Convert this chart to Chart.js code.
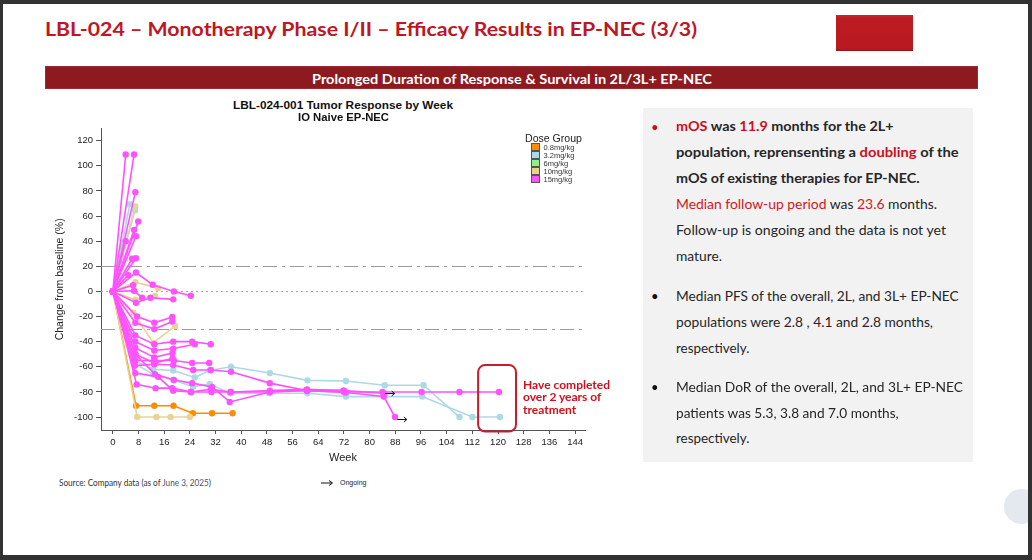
<!DOCTYPE html>
<html>
<head>
<meta charset="utf-8">
<script src="https://cdn.jsdelivr.net/npm/chart.js@4.4.1/dist/chart.umd.min.js"></script>
<style>
html,body{margin:0;padding:0;}
body{width:1032px;height:560px;background:#323232;position:relative;overflow:hidden;font-family:Lato,"Noto Sans",sans-serif;}
#page{position:absolute;left:3px;top:4px;width:1025px;height:551px;background:#fff;overflow:hidden;}
#circle{position:absolute;left:1001px;top:485px;width:35px;height:35px;border-radius:50%;background:#e4e8ef;}
#redblock{position:absolute;left:836px;top:15px;width:77px;height:36px;background:linear-gradient(#c72a30 0,#bd1b22 8%,#b81a21 92%,#9c1519 100%);}
#band{position:absolute;left:45px;top:66px;width:933px;height:23px;background:#8c1a1f;box-shadow:0 0 0 0.5px #a84045 inset;}
#panel{position:absolute;left:643px;top:108px;width:330px;height:354px;background:#f2f2f2;}
#chartBox{position:absolute;left:40px;top:120px;width:560px;height:350px;}
.t{position:absolute;left:0;top:0;white-space:nowrap;line-height:1.2;transform-origin:0 0;}
.h1{font-weight:700;font-size:19px;color:#be1622;}
.band{font-weight:700;font-size:12.5px;color:#fff;}
.ct{font-family:"Liberation Sans",Arial,sans-serif;font-weight:700;font-size:11px;color:#111;}
.lg{font-family:"Liberation Sans",Arial,sans-serif;font-size:10px;color:#222;}
.lgi{font-family:"Liberation Sans",Arial,sans-serif;font-size:7.5px;color:#333;}
.p{font-size:14px;color:#262626;}
.b{font-weight:700;}
.r{color:#c8101c;}
.rn{color:#d01820;}
.ann{font-weight:700;font-size:12px;color:#d0101a;}
.src{font-size:8.5px;color:#333;}
.og{font-family:"Liberation Sans",Arial,sans-serif;font-size:7px;color:#222;}
.lbox{position:absolute;width:7px;height:6px;border:1px solid #555;}
</style>
</head>
<body>
<div id="page"><div id="circle"></div></div>
<div id="redblock"></div>
<div id="band"></div>
<div id="panel"></div>
<div id="chartBox"><canvas id="c"></canvas></div>

<div class="t h1" data-x="45" data-b="36" data-w="652">LBL-024 – Monotherapy Phase I/II – Efficacy Results in EP-NEC (3/3)</div>
<div class="t band" data-x="512" data-b="83.5" data-a="center" data-w="400">Prolonged Duration of Response &amp; Survival in 2L/3L+ EP-NEC</div>

<div class="t ct" data-x="343" data-b="109" data-a="center" data-w="220">LBL-024-001 Tumor Response by Week</div>
<div class="t ct" data-x="343.5" data-b="120.5" data-a="center" data-w="91" style="font-size:10px">IO Naive EP-NEC</div>

<div class="t lg" data-x="553" data-b="141.5" data-a="center" data-w="57">Dose Group</div>
<div id="legendItems"></div>

<div class="t ann" data-x="523" data-b="388.7" data-w="87">Have completed</div>
<div class="t ann" data-x="523" data-b="401.3">over 2 years of</div>
<div class="t ann" data-x="523" data-b="414">treatment</div>

<div class="t src" data-x="59" data-b="485.5" data-w="152">Source: Company data (as of <span style="color:#44546a">June 3, 2025</span>)</div>
<svg style="position:absolute;left:319px;top:479px" width="16" height="8"><line x1="2" y1="4" x2="13" y2="4" stroke="#111" stroke-width="1"/><path d="M10,1.5 L13.5,4 L10,6.5" fill="none" stroke="#111" stroke-width="1"/></svg>
<div class="t og" data-x="340" data-b="484.5">Ongoing</div>

<div class="t p r" data-x="651" data-b="131.5" style="font-size:13px">•</div>
<div class="t p b" data-x="676" data-b="131" data-w="217.6"><span class="r">mOS</span> was <span class="r">11.9</span> months for the 2L+</div>
<div class="t p b" data-x="676" data-b="157.3" data-w="282.7">population, reprensenting a <span class="r">doubling</span> of the</div>
<div class="t p b" data-x="676" data-b="182.5" data-w="243.7">mOS of existing therapies for EP-NEC.</div>
<div class="t p" data-x="676" data-b="208.5" data-w="261"><span class="rn">Median follow-up period</span> was <span class="rn">23.6</span> months.</div>
<div class="t p" data-x="676" data-b="234.8" data-w="270">Follow-up is ongoing and the data is not yet</div>
<div class="t p" data-x="676" data-b="260.7" data-w="46">mature.</div>

<div class="t p" data-x="651" data-b="300.5" style="font-size:13px;color:#111">•</div>
<div class="t p" data-x="676" data-b="300.7" data-w="282.7">Median PFS of the overall, 2L, and 3L+ EP-NEC</div>
<div class="t p" data-x="676" data-b="326.7" data-w="257">populations were 2.8 , 4.1 and 2.8 months,</div>
<div class="t p" data-x="676" data-b="352.7" data-w="73.3">respectively.</div>

<div class="t p" data-x="651" data-b="391.5" style="font-size:13px;color:#111">•</div>
<div class="t p" data-x="676" data-b="391.7" data-w="287">Median DoR of the overall, 2L, and 3L+ EP-NEC</div>
<div class="t p" data-x="676" data-b="417.7" data-w="222.7">patients was 5.3, 3.8 and 7.0 months,</div>
<div class="t p" data-x="676" data-b="443.3" data-w="73.3">respectively.</div>

<script>
// ---------------- DATA ----------------
const doseGroups = ['0.8mg/kg', '3.2mg/kg', '6mg/kg', '10mg/kg', '15mg/kg'];
const doseColors = ['#ff8c00', '#add8e6', '#90ee90', '#e8d396', '#ff52ff'];

const xTickValues = [0, 8, 16, 24, 32, 40, 48, 56, 64, 72, 80, 88, 96, 104, 112, 120, 128, 136, 144];
const yTickValues = [-100, -80, -60, -40, -20, 0, 20, 40, 60, 80, 100, 120];

// Each patient: [week, % change from baseline]
const dose08 = [
  [[0,0],[7.2,-91],[12.9,-91],[18.9,-91],[24.9,-97],[30.9,-97],[37.3,-97]]
];
const dose32 = [
  [[0,0],[5.3,69.5]],
  [[0,0],[6.9,64.5]],
  [[0,0],[6.5,-55],[12.6,-62],[18.8,-63],[25.5,-68.5],[30.2,-63],[36.8,-60],[48.9,-65],[60.6,-70.8],[72.6,-71.3],[84.7,-74.7],[96.8,-74.7],[108,-100]],
  [[0,0],[6.5,-57],[12.6,-66],[18.8,-70.5],[25,-75.8],[30.2,-73.7],[36.5,-81],[48.7,-81],[60.6,-81],[72.6,-83.7],[84.7,-83.7],[96.4,-83.7],[112,-100],[120.6,-100]]
];
const dose6 = [
  [[0,0],[3,35]]
];
const dose10 = [
  [[0,0],[7,67.6]],
  [[0,0],[7,7.4],[14.1,2.6]],
  [[0,0],[7,-6.6],[13.1,-3.7]],
  [[0,0],[6.4,-17],[12.6,-41],[19.4,-27.5]],
  [[0,0],[7.6,-100],[13.6,-100],[18,-100],[24,-100]]
];
const dose15 = [
  [[0,0],[4,109]],
  [[0,0],[6.6,109]],
  [[0,0],[7,79]],
  [[0,0],[7.9,55.7]],
  [[0,0],[6.6,49]],
  [[0,0],[7.2,44]],
  [[0,0],[4,40]],
  [[0,0],[6,26]],
  [[0,0],[7.2,26.4]],
  [[0,0],[4.8,13]],
  [[0,0],[7.2,15],[12.4,5.3],[19,0],[24.3,-3.4]],
  [[0,0],[6.3,5]],
  [[0,0],[6.6,0.5],[9.1,-5]],
  [[0,0],[7.2,-9],[11.7,-5],[18.8,-6.3]],
  [[0,0],[7.5,-20],[12.9,-25],[18.5,-20.3]],
  [[0,0],[7,-25],[12.9,-30],[18.5,-24]],
  [[0,0],[7,-35],[12.9,-42],[18.8,-40],[24.7,-40],[30.5,-42]],
  [[0,0],[7,-40],[12.9,-47],[18.8,-45.5],[25.5,-42]],
  [[0,0],[7,-45],[12.9,-52.5],[18.6,-49]],
  [[0,0],[7,-50],[12.9,-57],[18.6,-53.3]],
  [[0,0],[7,-55],[12.9,-55],[19,-55],[24.7,-57],[30,-57]],
  [[0,0],[6.9,-59],[12.9,-58],[18.8,-58.6],[25,-62.6],[30.5,-62.6],[36.8,-64],[48.9,-73],[60.6,-79],[72.6,-80.5],[84.4,-83.7],[87.9,-100]],
  [[0,0],[7,-50],[13.1,-65.8],[19,-70.5],[24.7,-73],[30.9,-76],[36.4,-88],[48.9,-80],[60.3,-78.5],[71.8,-79]],
  [[0,0],[7.4,-74],[13.3,-77],[18.5,-77],[24.4,-80],[30.7,-80],[36.7,-80],[48.9,-80],[60.5,-79],[72,-80],[84,-80],[96.2,-80],[108,-80],[120.3,-80]],
  [[0,0],[7,-65],[14.1,-68],[18.8,-79],[24.2,-80],[30.5,-78],[36.7,-80],[48.9,-79],[60.5,-78],[72,-79],[84.4,-81]]
];

// reference lines (% change)
const refDashDot = [20, -30];
const refDotted = [0];
// ongoing arrows: start [week, %change], length in weeks
const ongoingArrows = [[84.8, -81], [88.6, -101.5]];
const arrowLengthWeeks = [3, 3];
// "completed over 2 years" box: weeks [from,to], change [top,bottom]
const completedBoxWeeks = [113.8, 125.6];
const completedBoxChange = [-58.6, -111.5];

// ---------------- BUILD ----------------
const groupPatients = [dose08, dose32, dose6, dose10, dose15];
const datasets = [];
[4, 3, 2, 1, 0].forEach(g => {
  groupPatients[g].forEach(p => {
    datasets.push({
      label: doseGroups[g],
      data: p.map(([x, y]) => ({x, y})),
      showLine: true,
      borderColor: doseColors[g],
      backgroundColor: doseColors[g],
      pointBackgroundColor: doseColors[g],
      pointBorderWidth: 0,
      pointRadius: 3.2,
      pointHoverRadius: 3.2,
      borderWidth: 1.6,
      tension: 0,
      clip: false
    });
  });
});

// HTML legend from the dose arrays
const li = document.getElementById('legendItems');
doseGroups.forEach((g, i) => {
  const top = 143.3 + i * 7.9;
  const box = document.createElement('div');
  box.className = 'lbox';
  box.style.left = '531px';
  box.style.top = top + 'px';
  box.style.background = doseColors[i];
  li.appendChild(box);
  const t = document.createElement('div');
  t.className = 't lgi';
  t.dataset.x = 543.5;
  t.dataset.b = top + 6.6;
  t.textContent = g;
  li.appendChild(t);
});

const overlay = {
  id: 'overlay',
  beforeDatasetsDraw(chart) {
    const {ctx, chartArea, scales: {x, y}} = chart;
    ctx.save();
    ctx.lineWidth = 1;
    ctx.strokeStyle = '#9b9b9b';
    ctx.setLineDash([14, 5, 3, 5]);
    refDashDot.forEach(v => {
      const py = Math.round(y.getPixelForValue(v)) + 0.5;
      ctx.beginPath(); ctx.moveTo(chartArea.left, py); ctx.lineTo(chartArea.right, py); ctx.stroke();
    });
    ctx.strokeStyle = '#a8a8a8';
    ctx.setLineDash([2, 3]);
    refDotted.forEach(v => {
      const py = Math.round(y.getPixelForValue(v)) + 0.5;
      ctx.beginPath(); ctx.moveTo(chartArea.left, py); ctx.lineTo(chartArea.right, py); ctx.stroke();
    });
    ctx.restore();
  },
  afterDatasetsDraw(chart) {
    const {ctx, scales: {x, y}} = chart;
    ctx.save();
    ctx.strokeStyle = '#111';
    ctx.lineWidth = 1;
    ongoingArrows.forEach(([w, v], i) => {
      const x1 = x.getPixelForValue(w), x2 = x.getPixelForValue(w + arrowLengthWeeks[i]);
      const py = Math.round(y.getPixelForValue(v)) + 0.5;
      ctx.beginPath(); ctx.moveTo(x1, py); ctx.lineTo(x2, py); ctx.stroke();
      ctx.beginPath(); ctx.moveTo(x2 - 3, py - 2.5); ctx.lineTo(x2, py); ctx.lineTo(x2 - 3, py + 2.5); ctx.stroke();
    });
    const bx1 = x.getPixelForValue(completedBoxWeeks[0]), bx2 = x.getPixelForValue(completedBoxWeeks[1]);
    const by1 = y.getPixelForValue(completedBoxChange[0]), by2 = y.getPixelForValue(completedBoxChange[1]);
    ctx.strokeStyle = '#c41e2a';
    ctx.lineWidth = 2;
    ctx.beginPath();
    ctx.roundRect(bx1, by1, bx2 - bx1, by2 - by1, 7);
    ctx.stroke();
    ctx.restore();
  }
};

Chart.defaults.font.family = '"Liberation Sans", Arial, sans-serif';
new Chart(document.getElementById('c'), {
  type: 'scatter',
  data: {datasets},
  options: {
    responsive: true,
    maintainAspectRatio: false,
    animation: false,
    events: [],
    layout: {padding: {left: 0, right: 15, top: 7, bottom: 0}},
    plugins: {legend: {display: false}, tooltip: {enabled: false}},
    scales: {
      x: {
        type: 'linear', min: -3.7, max: 147.1,
        afterBuildTicks(s) { s.ticks = xTickValues.map(v => ({value: v})); },
        afterFit(s) { s.height = 40; },
        grid: {display: true, drawOnChartArea: false, drawTicks: true, tickLength: 4, color: '#555'},
        border: {display: true, color: '#555', width: 1},
        ticks: {autoSkip: false, maxRotation: 0, padding: 3, color: '#222', font: {size: 9.5}},
        title: {display: true, text: 'Week', color: '#222', font: {size: 11}, padding: {top: 0, bottom: 5.4}}
      },
      y: {
        type: 'linear', min: -110.3, max: 129.5,
        afterBuildTicks(s) { s.ticks = yTickValues.map(v => ({value: v})); },
        afterFit(s) { s.width = 61; },
        grid: {display: true, drawOnChartArea: false, drawTicks: true, tickLength: 5, color: '#555'},
        border: {display: true, color: '#555', width: 1},
        ticks: {padding: 3, color: '#222', font: {size: 9.5}},
        title: {display: true, text: 'Change from baseline (%)', color: '#222', font: {size: 10.5}, padding: {top: 13.7, bottom: 0}}
      }
    }
  },
  plugins: [overlay]
});

// text placement by baseline, with optional width fit
function placeAll() {
  document.querySelectorAll('.t').forEach(el => {
    const x = parseFloat(el.dataset.x), b = parseFloat(el.dataset.b);
    const align = el.dataset.a || 'left';
    const tw = el.dataset.w ? parseFloat(el.dataset.w) : 0;
    el.style.transform = 'none';
    const m = document.createElement('span');
    m.style.cssText = 'display:inline-block;width:0;height:0;vertical-align:baseline';
    el.appendChild(m);
    const base = m.offsetTop;
    el.removeChild(m);
    const w = el.getBoundingClientRect().width;
    const s = tw ? tw / w : 1;
    const sw = w * s;
    const left = align === 'center' ? x - sw / 2 : (align === 'right' ? x - sw : x);
    el.style.left = left + 'px';
    el.style.top = (b - base) + 'px';
    if (tw) el.style.transform = 'scaleX(' + s + ')';
  });
}
placeAll();
if (document.fonts && document.fonts.ready) document.fonts.ready.then(placeAll);
</script>
</body>
</html>
